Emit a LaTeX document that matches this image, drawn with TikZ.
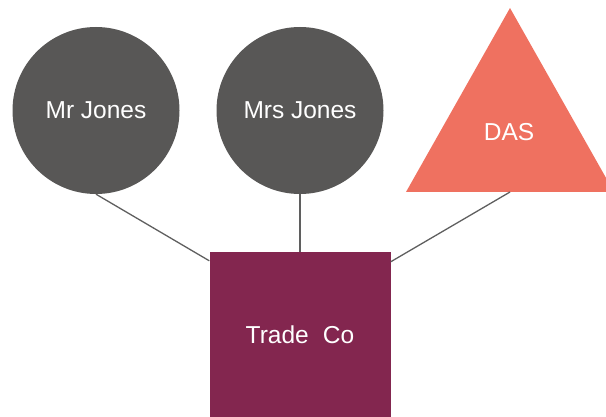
\documentclass[tikz,border=0pt]{standalone}
\usepackage{fontspec}
\setmainfont{Liberation Sans}
\usetikzlibrary{positioning}

\definecolor{persongrey}{HTML}{585756}
\definecolor{dasred}{HTML}{EF7160}
\definecolor{companyplum}{HTML}{83264F}
\definecolor{linkgrey}{HTML}{5F5F5F}

\begin{document}
\begin{tikzpicture}[x=1pt,y=-1pt,
        node distance=204pt,
        every node/.style={text=white,font=\fontsize{24.5}{28}\selectfont},
        person node/.style={circle,fill=persongrey,minimum size=167pt,inner sep=0pt},
        company node/.style={rectangle,fill=companyplum,minimum width=181pt,minimum height=165pt,inner sep=0pt},
        link/.style={draw=linkgrey,line width=1.3pt}]
    \useasboundingbox (0,0) rectangle (606,417);

        \node[person node] (mrsj) at (300,110.5) {Mrs Jones};
        \node[person node] (mrj) [left of=mrsj] {Mr Jones};
        \node[company node] (trade) at (300,334.5) {Trade\hspace{.3em} Co};

        % DAS triangle
        \fill[dasred] (406,192) -- (510,8) -- (614,192) -- cycle;
        \node (das) at (509,132) {DAS};
        \coordinate (dasbase) at (510,192);

        \path[link]
        (mrj.south) edge ([yshift=-9pt]trade.north west)
        (mrsj.south) edge (trade.north)
        (dasbase) edge ([yshift=-10pt]trade.north east)
        ;
    \end{tikzpicture}
\end{document}
